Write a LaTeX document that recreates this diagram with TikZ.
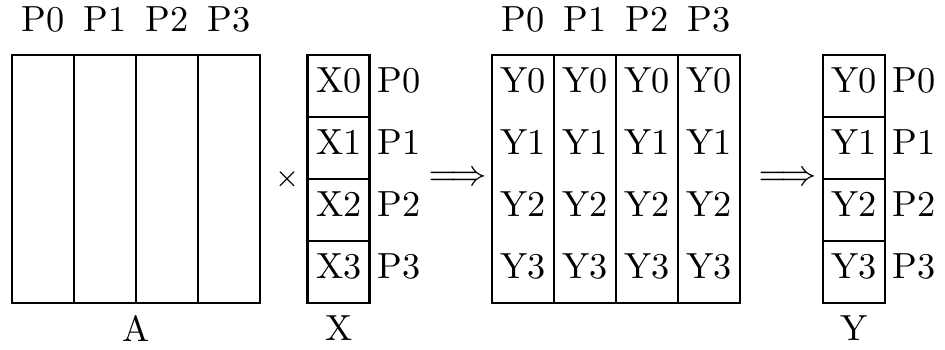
\documentclass[tikz,border=0pt]{standalone}
\usepackage{amsmath,amssymb}
\usepackage{tikz}
\usetikzlibrary{positioning}
\begin{document}
\begin{tikzpicture}[
  cell/.style={rectangle,draw=black,thick,minimum width=0.6cm,minimum height=0.6cm,
               inner sep=0pt,outer sep=0pt,text depth=3.3pt},
  acol/.style={cell,minimum height=2.4cm},
  ycell/.style={cell,draw=none},
  plbl/.style={inner sep=2pt},
  node distance=0pt
]
\useasboundingbox (-0.116,0.532) rectangle (9.029,-2.855);
\node[acol,anchor=north west] (a0) at (0,0) {};
\node[acol,right=of a0] (a1) {};
\node[acol,right=of a1] (a2) {};
\node[acol,right=of a2] (a3) {};
\node[above=0.1cm of a0] {P0};
\node[above=0.1cm of a1] {P1};
\node[above=0.1cm of a2] {P2};
\node[above=0.1cm of a3] {P3};
\node[below=0pt of a1.south east] (lblA) {A};
\node[font=\footnotesize] (times) at ([xshift=0.271cm]a3.east) {$\times$};
\node[cell,anchor=north west] (x0) at ([xshift=0.464cm]a3.north east) {X0};
\node[cell,below=of x0] (x1) {X1};
\node[cell,below=of x1] (x2) {X2};
\node[cell,below=of x2] (x3) {X3};
\node[plbl,anchor=base west] at (x0.base east) {P0};
\node[plbl,anchor=base west] at (x1.base east) {P1};
\node[plbl,anchor=base west] at (x2.base east) {P2};
\node[plbl,anchor=base west] at (x3.base east) {P3};
\node[below=0pt of x3] (lblX) {X};
\node (imp1) at ([xshift=0.852cm]x1.south east) {$\Longrightarrow$};
\coordinate (yb) at ([xshift=1.181cm]x0.north east);
\foreach \c in {0,...,3}{
  \foreach \r in {0,...,3}
    \node[ycell,anchor=north west] (y\c\r) at ([xshift=\c*0.6cm,yshift=-\r*0.6cm]yb) {Y\r};
  \draw[thick] (y\c0.north west) rectangle (y\c3.south east);
  \node[above=0.1cm of y\c0] {P\c};
}
\node (imp2) at ([xshift=0.464cm]y31.south east) {$\Longrightarrow$};
\node[cell,anchor=north west] (v0) at ([xshift=0.803cm]y30.north east) {Y0};
\node[cell,below=of v0] (v1) {Y1};
\node[cell,below=of v1] (v2) {Y2};
\node[cell,below=of v2] (v3) {Y3};
\node[plbl,anchor=base west] at (v0.base east) {P0};
\node[plbl,anchor=base west] at (v1.base east) {P1};
\node[plbl,anchor=base west] at (v2.base east) {P2};
\node[plbl,anchor=base west] at (v3.base east) {P3};
\node[below=0pt of v3] (lblY) {Y};
\end{tikzpicture}
\end{document}
